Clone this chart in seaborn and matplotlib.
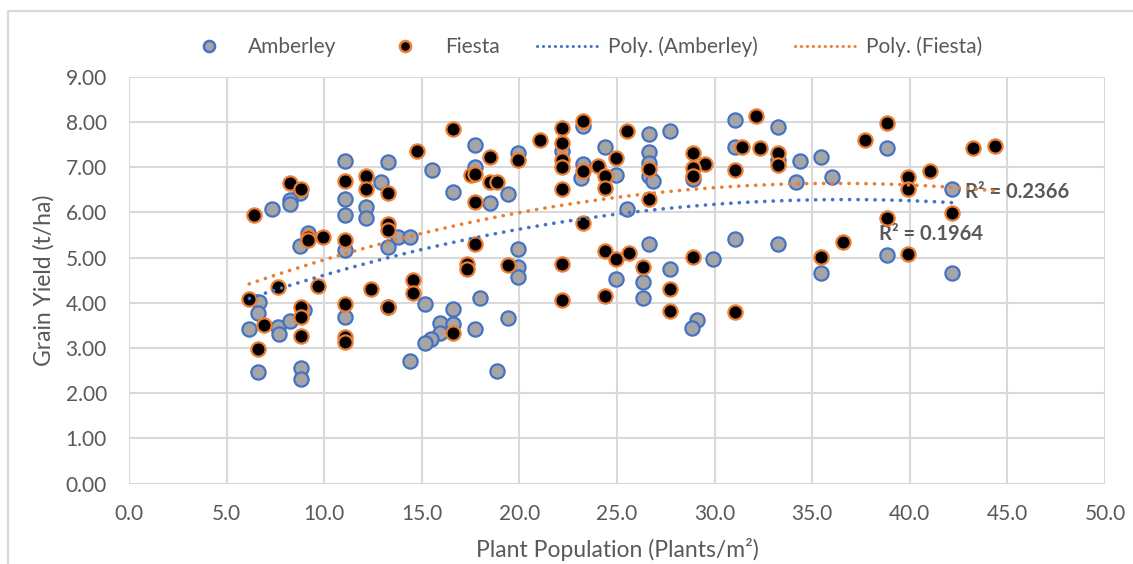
import numpy as np
import pandas as pd
import matplotlib
matplotlib.use("Agg")
import matplotlib.pyplot as plt
from matplotlib.lines import Line2D
from matplotlib.patches import Rectangle
import seaborn as sns

# ---- data ----
amb_x = [11.04, 13.29, 8.78, 8.27, 8.27, 7.33, 12.92, 11.04, 11.04, 12.16, 12.16, 13.80,
         13.29, 11.04, 9.16, 8.78, 6.64, 6.59, 6.16, 7.62, 7.70, 8.25, 8.99, 6.59, 8.82,
         8.82, 11.04, 13.29, 17.72, 19.94, 15.53, 17.72, 16.60, 18.49, 19.40, 14.38, 19.94,
         19.94, 19.94, 15.18, 17.98, 16.60, 19.40, 15.92, 16.60, 15.92, 17.72, 15.49, 15.15,
         14.38, 18.83, 22.20, 23.28, 26.62, 27.73, 24.40, 26.62, 23.28, 23.14, 24.96, 26.62,
         26.62, 26.84, 28.90, 25.50, 26.62, 27.73, 29.93, 24.96, 26.33, 26.33, 29.10, 28.84,
         31.04, 33.25, 31.04, 33.25, 34.36, 35.47, 34.15, 36.03, 38.83, 31.04, 33.25, 35.47,
         38.83, 42.15, 42.15]
amb_y = [7.14, 7.11, 6.42, 6.27, 6.19, 6.08, 6.67, 6.30, 5.94, 6.11, 5.88, 5.46,
         5.24, 5.17, 5.54, 5.26, 4.02, 3.77, 3.41, 3.47, 3.30, 3.60, 3.84, 2.48, 2.55,
         2.31, 3.68, 3.90, 7.49, 7.32, 6.94, 7.01, 6.46, 6.20, 6.40, 5.45, 5.19,
         4.80, 4.58, 3.97, 4.10, 3.86, 3.67, 3.56, 3.53, 3.33, 3.41, 3.19, 3.12,
         2.72, 2.50, 7.36, 7.91, 7.73, 7.79, 7.44, 7.33, 7.06, 6.77, 6.83, 7.09,
         6.81, 6.69, 6.73, 6.07, 5.30, 4.74, 4.96, 4.53, 4.47, 4.10, 3.62, 3.44,
         8.04, 7.90, 7.44, 7.16, 7.14, 7.23, 6.67, 6.79, 7.42, 5.41, 5.30, 4.67,
         5.06, 6.51, 4.67]

fie_x = [8.25, 8.82, 6.39, 11.04, 12.16, 12.16, 13.29, 13.29, 13.29, 11.04, 9.16, 9.16,
         9.93, 7.62, 9.67, 12.41, 6.16, 6.90, 8.82, 8.82, 8.82, 6.59, 11.04, 11.04, 11.04,
         13.29, 16.60, 14.77, 18.49, 19.94, 17.54, 17.75, 18.49, 18.83, 17.72, 17.72, 17.29,
         17.29, 19.40, 14.55, 14.55, 16.60, 22.20, 22.20, 22.20, 22.20, 22.20, 22.20, 22.20,
         23.28, 25.50, 24.96, 24.05, 23.28, 24.40, 24.40, 26.62, 26.62, 28.90, 29.53, 28.90,
         28.90, 23.28, 24.40, 24.96, 25.64, 26.33, 28.90, 24.40, 27.73, 27.73, 32.14, 31.41,
         32.32, 33.25, 33.25, 31.04, 37.71, 38.83, 38.83, 35.47, 36.59, 31.04, 43.23, 44.39,
         41.04, 39.93, 39.93, 42.15, 39.93, 21.06]
fie_y = [6.64, 6.51, 5.94, 6.70, 6.81, 6.51, 6.42, 5.74, 5.60, 5.40, 5.46, 5.39,
         5.45, 4.36, 4.37, 4.30, 4.08, 3.51, 3.90, 3.68, 3.27, 2.97, 3.97, 3.24, 3.14,
         3.90, 7.84, 7.36, 7.22, 7.17, 6.83, 6.85, 6.67, 6.67, 6.24, 5.30, 4.85,
         4.74, 4.84, 4.50, 4.22, 3.33, 7.86, 7.53, 7.17, 7.01, 6.51, 4.86, 4.06,
         8.03, 7.79, 7.20, 7.03, 6.92, 6.81, 6.53, 6.95, 6.30, 7.31, 7.07, 6.98,
         6.81, 5.76, 5.15, 4.96, 5.11, 4.80, 5.02, 4.14, 4.31, 3.82, 8.13, 7.44,
         7.42, 7.32, 7.04, 6.94, 7.60, 7.98, 5.87, 5.02, 5.35, 3.80, 7.43, 7.48,
         6.92, 6.78, 6.51, 5.99, 5.09, 7.60]

series_names = ["Amberley", "Fiesta"]
trend_names = ["Poly. (Amberley)", "Poly. (Fiesta)"]
r2_labels = ["R\u00b2 = 0.1964", "R\u00b2 = 0.2366"]
x_ticks = [0, 5, 10, 15, 20, 25, 30, 35, 40, 45, 50]
y_ticks = [0, 1, 2, 3, 4, 5, 6, 7, 8, 9]
x_label = "Plant Population (Plants/m\u00b2)"
y_label = "Grain Yield (t/ha)"

# ---- style ----
sns.set_theme(style="white")
plt.rcParams["font.family"] = ["Lato", "DejaVu Sans"]

BLUE = "#4472C4"
ORANGE = "#ED7D31"
GREY_FILL = "#A5A5A5"
TEXT = "#595959"
GRID = "#D9D9D9"
DOTS = (0, (0.05, 2.3))

amb = pd.DataFrame({"x": amb_x, "y": amb_y})
fie = pd.DataFrame({"x": fie_x, "y": fie_y})

fig = plt.figure(figsize=(11.33, 5.64), dpi=100)
ax = fig.add_axes([129 / 1133, 80.4 / 564, 976 / 1133, 406.8 / 564])

# chart border
fig.patches.append(Rectangle((7.5 / 1133, -0.01), 1.1, (564 - 11) / 564 + 0.01,
                             transform=fig.transFigure, fill=False,
                             edgecolor=GRID, linewidth=1.6))

sns.scatterplot(data=amb, x="x", y="y", ax=ax, s=105, color=GREY_FILL,
                edgecolor=BLUE, linewidth=1.6, zorder=3, legend=False)
sns.scatterplot(data=fie, x="x", y="y", ax=ax, s=105, color="black",
                edgecolor=ORANGE, linewidth=1.6, zorder=4, legend=False)

sns.regplot(data=amb, x="x", y="y", ax=ax, order=2, ci=None, scatter=False,
            line_kws=dict(color=BLUE, lw=2.6, ls=DOTS,
                          dash_capstyle="round", zorder=5))
sns.regplot(data=fie, x="x", y="y", ax=ax, order=2, ci=None, scatter=False,
            line_kws=dict(color=ORANGE, lw=2.6, ls=DOTS,
                          dash_capstyle="round", zorder=5))

ax.set_xlim(0, 50)
ax.set_ylim(0, 9)
ax.set_xticks(x_ticks)
ax.set_yticks(y_ticks)
ax.set_xticklabels([f"{v:.1f}" for v in x_ticks])
ax.set_yticklabels([f"{v:.2f}" for v in y_ticks])
ax.grid(True, color=GRID, linewidth=1.5, zorder=0)
ax.set_axisbelow(True)
for s in ax.spines.values():
    s.set_visible(False)
ax.tick_params(axis="both", length=0, labelsize=15, labelcolor=TEXT)
ax.tick_params(axis="y", pad=16)
ax.tick_params(axis="x", pad=15)
ax.set_xlabel(x_label, fontsize=16.5, color=TEXT, labelpad=10)
ax.set_ylabel(y_label, fontsize=16.5, color=TEXT, labelpad=8)

# R² annotations
ax.text(38.4, 5.52, r2_labels[0], fontsize=14.5, fontweight="bold", color=TEXT,
        va="center", ha="left")
ax.text(42.85, 6.45, r2_labels[1], fontsize=14.5, fontweight="bold", color=TEXT,
        va="center", ha="left")

handles = [
    Line2D([], [], ls="none", marker="o", markersize=8, markerfacecolor=GREY_FILL,
           markeredgecolor=BLUE, markeredgewidth=1.8),
    Line2D([], [], ls="none", marker="o", markersize=8, markerfacecolor="black",
           markeredgecolor=ORANGE, markeredgewidth=1.8),
    Line2D([], [], color=BLUE, lw=2.2, ls=(0, (0.05, 1.9)), dash_capstyle="round"),
    Line2D([], [], color=ORANGE, lw=2.2, ls=(0, (0.05, 1.9)), dash_capstyle="round"),
]
fig.legend(handles, series_names + trend_names, loc="center",
           bbox_to_anchor=(580 / 1133, 1 - 47 / 564), ncol=4, frameon=False,
           fontsize=15, labelcolor=TEXT, columnspacing=1.8, handlelength=3.0,
           handletextpad=0.4)

fig.savefig("out.png", dpi=100)
